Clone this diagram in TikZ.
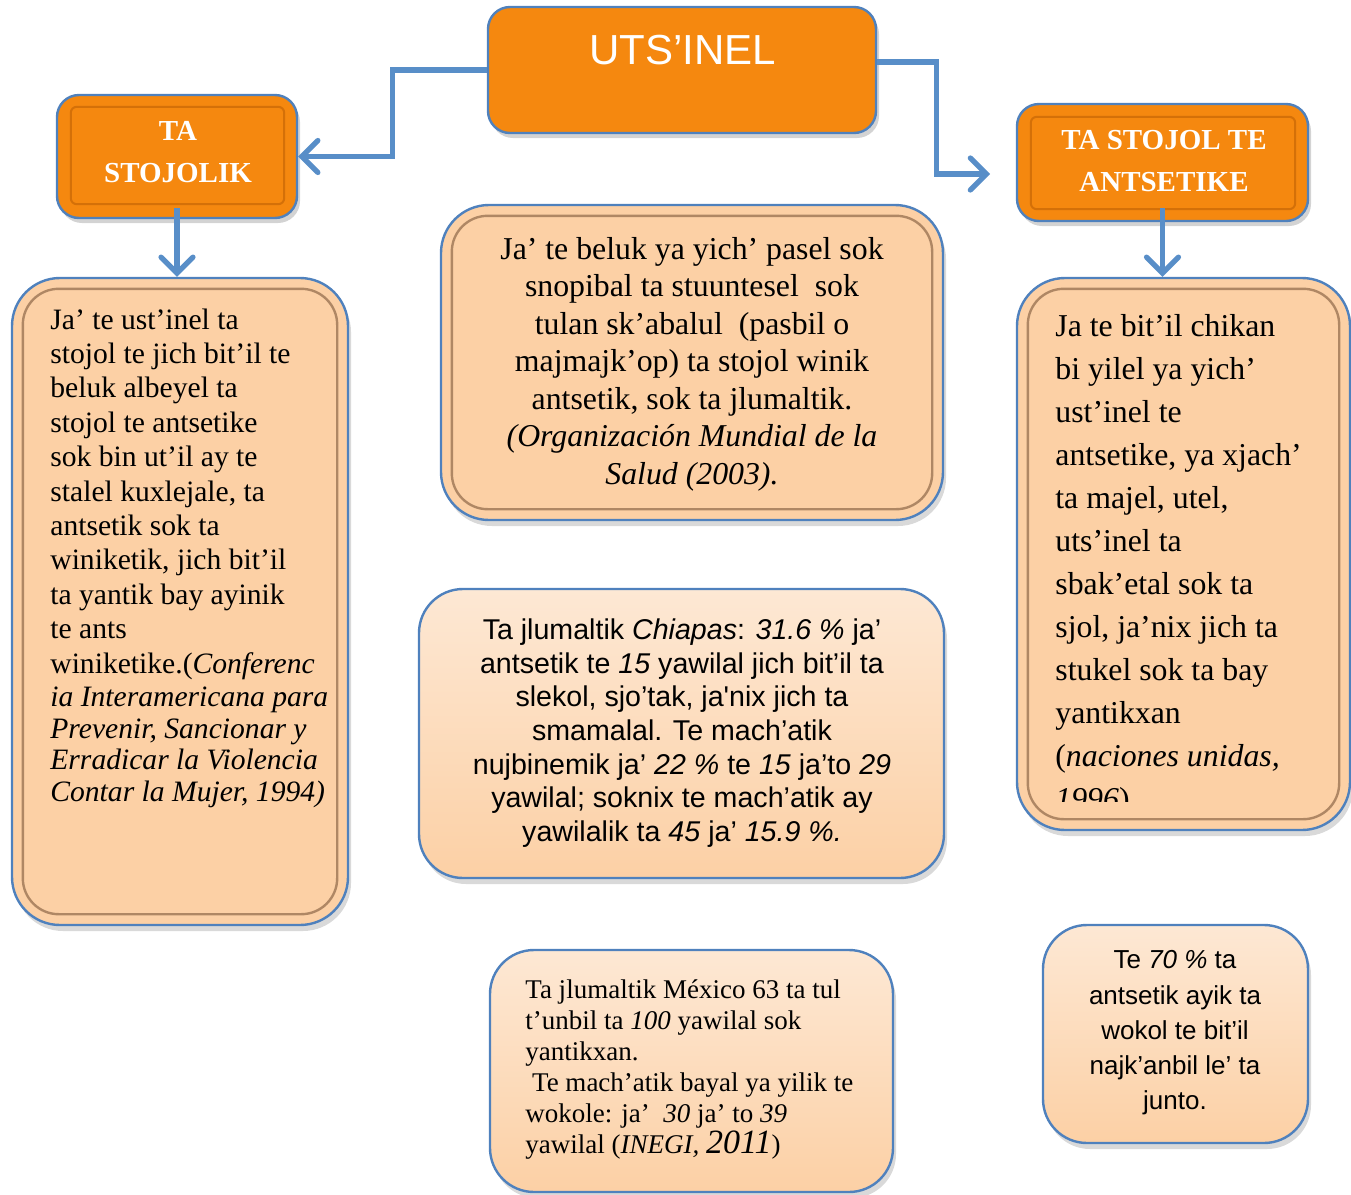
\documentclass[tikz,border=0pt]{standalone}
\usepackage{fontspec}
\setmainfont{Liberation Serif}
\setsansfont{Liberation Sans}
\usetikzlibrary{arrows.meta,shadows,calc}
\definecolor{orng}{RGB}{245,136,15}
\definecolor{orngdk}{RGB}{212,112,8}
\definecolor{ornglt}{RGB}{250,170,80}
\definecolor{peach}{RGB}{252,208,165}
\definecolor{peachlt}{RGB}{253,232,212}
\definecolor{bdr}{RGB}{79,129,189}
\definecolor{connc}{RGB}{88,142,200}
\definecolor{bevelc}{RGB}{175,135,100}
\begin{document}
\begin{tikzpicture}[x=0.5pt,y=-0.5pt,
  obox/.style={draw=bdr, line width=1.2pt, fill=orng, rounded corners=11pt,
    drop shadow={opacity=0.35,shadow xshift=1.5pt,shadow yshift=-2.5pt}},
  pbox/.style={draw=bdr, line width=1.2pt, fill=peach, rounded corners=24pt,
    drop shadow={opacity=0.3,shadow xshift=1.5pt,shadow yshift=-3pt}},
  gbox/.style={draw=bdr, line width=1.2pt, top color=peachlt, bottom color=peach, rounded corners=22pt,
    drop shadow={opacity=0.3,shadow xshift=1.5pt,shadow yshift=-3pt}},
  obevel/.style={draw=orngdk, line width=1pt, rounded corners=3pt},
  pbevel/.style={draw=bevelc, line width=1.2pt, rounded corners=18pt},
  conn/.style={draw=connc, line width=2.6pt, -{Straight Barb[length=8pt,width=16pt,line cap=round]}},
  head/.style={text=white, font=\bfseries\fontsize{14.5}{21.3}\selectfont, align=center, inner sep=0pt},
  txt/.style={inner sep=0pt, text=black}
]
\useasboundingbox (0,0) rectangle (1351,1195);

% heading boxes
\node[obox, minimum width=194pt, minimum height=63pt] (top) at (682,70) {};
\node[obox, minimum width=120pt, minimum height=61.5pt] (ls) at (177,156.5) {};
\node[obox, minimum width=145.5pt, minimum height=58.5pt] (rs) at (1162.5,162.5) {};
\draw[obevel] ($(ls.north west)+(15,13)$) rectangle ($(ls.south east)+(-14,-15)$);
\draw[obevel] ($(rs.north west)+(15,14)$) rectangle ($(rs.south east)+(-14,-13)$);
\node[txt, text=white, font=\sffamily\fontsize{21}{25}\selectfont] (toptx) at (683,50) {UTS’INEL};
\node[head] (lstx) at (178,152) {TA\\STOJOLIK};
\node[head] (rstx) at (1164,161) {TA STOJOL TE\\ANTSETIKE};

% content boxes
\node[pbox, minimum width=168pt, minimum height=323.5pt] (lb) at (180,601.5) {};
\node[pbox, minimum width=251pt, minimum height=157.5pt] (mt) at (692,362.5) {};
\node[pbox, minimum width=166.5pt, minimum height=276pt] (rb) at (1183.5,554) {};
\draw[pbevel] ($(lb.north west)+(12,12)$) rectangle ($(lb.south east)+(-12,-12)$);
\draw[pbevel] ($(mt.north west)+(12,12)$) rectangle ($(mt.south east)+(-12,-12)$);
\draw[pbevel] ($(rb.north west)+(12,12)$) rectangle ($(rb.south east)+(-12,-12)$);
\node[gbox, minimum width=262.5pt, minimum height=144.5pt] (mm) at (681.5,733.5) {};
\node[gbox, minimum width=201.5pt, minimum height=121pt] (mb) at (691.5,1071) {};
\node[gbox, minimum width=132.5pt, minimum height=109pt] (br) at (1175.5,1034) {};

% connectors
\coordinate (rarr) at (990,174);
\draw[conn] (top.west) -- ++(-94,0) |- (ls.east);
\draw[conn] ($(top.east)+(0,-8)$) -- ++(59,0) |- (rarr);
\draw[conn, shorten <=-5.5pt] (ls.south) -- (ls.south |- lb.north);
\draw[conn, shorten <=-7pt] (rs.south) -- (rs.south |- rb.north);

% texts
\node[txt, anchor=west, align=left, font=\fontsize{14.8}{17.2}\selectfont] (lbtx) at (50,558) {%
Ja’ te ust’inel ta\\
stojol te jich bit’il te\\
beluk albeyel ta\\
stojol te antsetike\\
sok bin ut’il ay te\\
stalel kuxlejale, ta\\
antsetik sok ta\\
winiketik, jich bit’il\\
ta yantik bay ayinik\\
te ants\\
winiketike.(\textit{Conferenc}\\[-0.7pt]
\textit{ia Interamericana para}\\[-1pt]
\textit{Prevenir, Sancionar y}\\[-1.5pt]
\textit{Erradicar la Violencia}\\[-1.5pt]
\textit{Contar la Mujer, 1994)}};

\node[txt, align=center, font=\fontsize{15.9}{18.75}\selectfont] (mttx) at (692,364) {%
Ja’ te beluk ya yich’ pasel sok\\
snopibal ta stuuntesel\ \ sok\\
tulan sk’abalul\ \ (pasbil o\\
majmajk’op) ta stojol winik\\
antsetik, sok ta jlumaltik.\\
\textit{(Organización Mundial de la}\\
\textit{Salud (2003).}};

\begin{scope}
\clip (1020,285) rectangle (1345,801);
\node[txt, anchor=west, align=left, font=\fontsize{15.9}{21.5}\selectfont] (rbtx) at (1055,565) {%
Ja te bit’il chikan\\
bi yilel ya yich’\\
ust’inel te\\
antsetike, ya xjach’\\
ta majel, utel,\\
uts’inel ta\\
sbak’etal sok ta\\
sjol, ja’nix jich ta\\
stukel sok ta bay\\
yantikxan\\
(\textit{naciones unidas,}\\
\textit{1996})};
\end{scope}

\node[txt, align=center, font=\sffamily\fontsize{14.3}{16.8}\selectfont] (mmtx) at (682,733) {%
Ta jlumaltik \textit{Chiapas}: \textit{31.6 \%} ja’\\
antsetik te \textit{15} yawilal jich bit’il ta\\
slekol, sjo’tak, ja\textquotesingle nix jich ta\\
smamalal. Te mach’atik\\
nujbinemik ja’ \textit{22 \%} te \textit{15} ja’to \textit{29}\\
yawilal; soknix te mach’atik ay\\
yawilalik ta \textit{45} ja’ \textit{15.9 \%.}};

\node[txt, anchor=west, align=left, font=\fontsize{13.5}{15.5}\selectfont] (mbtx) at (525,1070) {%
Ta jlumaltik México 63 ta tul\\
t’unbil ta \textit{100} yawilal sok\\
yantikxan.\\
\hspace{0.25em}Te mach’atik bayal ya yilik te\\
wokole: ja’\ \ \textit{30} ja’ to \textit{39}\\
yawilal (\textit{INEGI, {\fontsize{17}{17}\selectfont 2011}})};

\node[txt, align=center, font=\sffamily\fontsize{13}{17.6}\selectfont] (brtx) at (1175,1033) {%
Te \textit{70 \%} ta\\
antsetik ayik ta\\
wokol te bit’il\\
najk’anbil le’ ta\\
junto.};
\end{tikzpicture}
\end{document}
